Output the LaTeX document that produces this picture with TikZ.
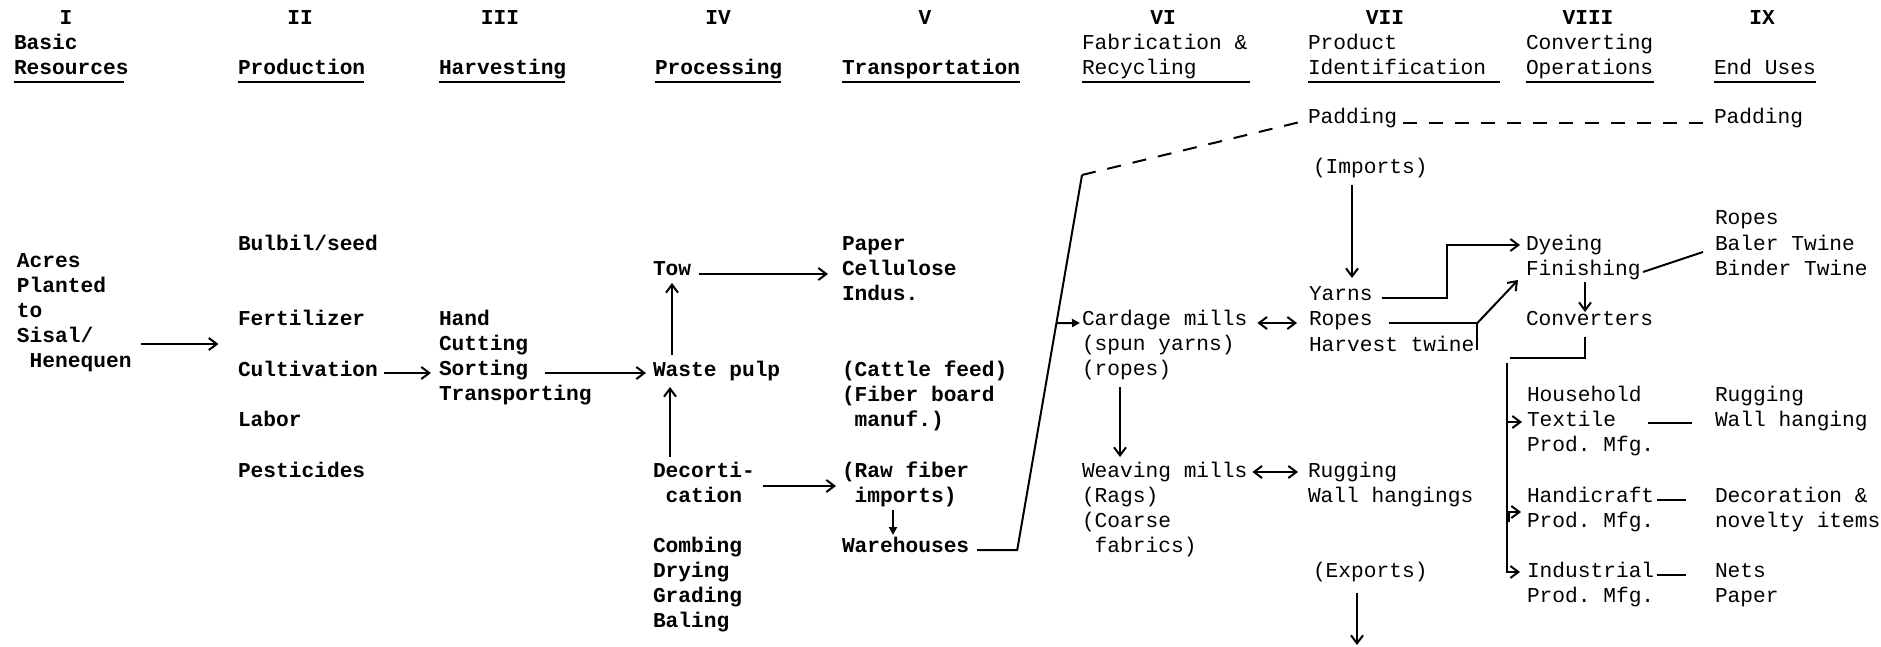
\documentclass[tikz,border=0pt]{standalone}
\usepackage{fontspec}
\newfontfamily\monofam{Liberation Mono}
\usetikzlibrary{arrows.meta,calc}
\newcommand\tw{\monofam\fontsize{10.6pt}{12.6pt}\selectfont\frenchspacing}
% lines stacked from the first baseline downwards
\newcommand\stk[1]{\begin{tabular}[t]{@{}l@{}}#1\end{tabular}}
\newcommand\ind{\hphantom{x}}
\tikzset{
  lbl/.style={anchor=base west, inner sep=0pt, outer sep=0pt, font=\tw},
  lblb/.style={lbl, font=\tw\bfseries},
  num/.style={anchor=base, inner sep=0pt, outer sep=0pt, font=\tw\bfseries},
  link/.style={line width=1pt},
  uline/.style={line width=0.9pt},
  arr/.style={link, -{Straight Barb[length=4pt,width=6pt]}},
  both/.style={link, {Straight Barb[length=4pt,width=6pt]}-{Straight Barb[length=4pt,width=6pt]}},
  dot/.style={link, -{Triangle[length=4pt,width=4pt]}},
  dashlink/.style={line width=1pt, dash pattern=on 7pt off 6pt}
}
\begin{document}
\begin{tikzpicture}[x=0.5pt,y=-0.5pt]
\fill[white] (0,0) rectangle (1881,647);
\useasboundingbox (0,0) rectangle (1881,647);

% column numbers
\node[num] (n1) at (66,25) {I};
\node[num] (n2) at (300,25) {II};
\node[num] (n3) at (500,25) {III};
\node[num] (n4) at (718,25) {IV};
\node[num] (n5) at (925,25) {V};
\node[num] (n6) at (1163,25) {VI};
\node[num] (n7) at (1385,25) {VII};
\node[num] (n8) at (1588,25) {VIII};
\node[num] (n9) at (1762,25) {IX};

% column titles
\node[lblb] (hIa) at (14,50) {Basic};
\node[lblb] (hIb) at (14,75) {Resources};
\node[lblb] (hII) at (238,75) {Production};
\node[lblb] (hIII) at (439,75) {Harvesting};
\node[lblb] (hIV) at (655,75) {Processing};
\node[lblb] (hV) at (842,75) {Transportation};
\node[lbl] (hVIa) at (1082,50) {Fabrication \&};
\node[lbl] (hVIb) at (1082,75) {Recycling};
\node[lbl] (hVIIa) at (1308,50) {Product};
\node[lbl] (hVIIb) at (1308,75) {Identification};
\node[lbl] (hVIIIa) at (1526,50) {Converting};
\node[lbl] (hVIIIb) at (1526,75) {Operations};
\node[lbl] (hIX) at (1714,75) {End Uses};

\draw[uline] ([yshift=-3.5pt]hIb.base west) -- ++(110,0);
\draw[uline] ([yshift=-3.5pt]hII.base west) -- ++(126,0);
\draw[uline] ([yshift=-3.5pt]hIII.base west) -- ++(126,0);
\draw[uline] ([yshift=-3.5pt]hIV.base west) -- ++(126,0);
\draw[uline] ([yshift=-3.5pt]hV.base west) -- ++(178,0);
\draw[uline] ([yshift=-3.5pt]hVIb.base west) -- ++(168,0);
\draw[uline] ([yshift=-3.5pt]hVIIb.base west) -- ++(192,0);
\draw[uline] ([yshift=-3.5pt]hVIIIb.base west) -- ++(128,0);
\draw[uline] ([yshift=-3.5pt]hIX.base west) -- ++(102,0);

% I - V
\node[lblb] (acres) at (17,267) {\stk{Acres\\Planted\\to\\Sisal/\\\ind Henequen}};
\node[lblb] (bulbil) at (238,250) {Bulbil/seed};
\node[lblb] (fert) at (238,325) {Fertilizer};
\node[lblb] (cult) at (238,376) {Cultivation};
\node[lblb] (labor) at (238,426) {Labor};
\node[lblb] (pest) at (238,477) {Pesticides};
\node[lblb] (harv) at (439,325) {\stk{Hand\\Cutting\\Sorting\\Transporting}};
\node[lblb] (tow) at (653,275) {Tow};
\node[lblb] (waste) at (653,376) {Waste pulp};
\node[lblb] (decort) at (653,477) {\stk{Decorti-\\\ind cation}};
\node[lblb] (comb) at (653,552) {\stk{Combing\\Drying\\Grading\\Baling}};
\node[lblb] (paper) at (842,250) {\stk{Paper\\Cellulose\\Indus.}};
\node[lblb] (cattle) at (842,376) {\stk{(Cattle feed)\\(Fiber board\\\ind manuf.)}};
\node[lblb] (raw) at (842,477) {\stk{(Raw fiber\\\ind imports)}};
\node[lblb] (ware) at (842,552) {Warehouses};

% VI - IX
\node[lbl] (cardage) at (1082,325) {\stk{Cardage mills\\(spun yarns)\\(ropes)}};
\node[lbl] (weaving) at (1082,477) {\stk{Weaving mills\\(Rags)\\(Coarse\\\ind fabrics)}};
\node[lbl] (pad7) at (1308,124) {Padding};
\node[lbl] (imports) at (1313,174) {(Imports)};
\node[lbl] (yarns) at (1309,300) {Yarns};
\node[lbl] (ropes7) at (1309,325) {Ropes};
\node[lbl] (harvtw) at (1309,351) {Harvest twine};
\node[lbl] (rugg7) at (1308,477) {\stk{Rugging\\Wall hangings}};
\node[lbl] (exports) at (1313,577) {(Exports)};
\node[lbl] (dye) at (1526,250) {\stk{Dyeing\\Finishing}};
\node[lbl] (conv) at (1526,325) {Converters};
\node[lbl] (house) at (1527,401) {\stk{Household\\Textile\\Prod. Mfg.}};
\node[lbl] (handi) at (1527,502) {\stk{Handicraft\\Prod. Mfg.}};
\node[lbl] (indus) at (1527,577) {\stk{Industrial\\Prod. Mfg.}};
\node[lbl] (pad9) at (1714,124) {Padding};
\node[lbl] (ropes9) at (1715,225) {\stk{Ropes\\Baler Twine\\Binder Twine}};
\node[lbl] (rugg9) at (1715,401) {\stk{Rugging\\Wall hanging}};
\node[lbl] (deco) at (1715,502) {\stk{Decoration \&\\novelty items}};
\node[lbl] (nets) at (1715,577) {\stk{Nets\\Paper}};

% flows, left part
\draw[arr] ([shift={(10,77)}]acres.base east) -- ++(77,0);
\draw[arr] ([shift={(6,-3)}]cult.base east) -- ++(47,0);
\draw[arr] ([shift={(-108,-3)}]waste.base west) -- ([shift={(-7,-3)}]waste.base west);
\draw[arr] ([shift={(19,-21)}]waste.base west) -- ([shift={(19,8)}]tow.base west);
\draw[arr] ([shift={(17,-20)}]decort.base west) -- ([shift={(17,11)}]waste.base west);
\draw[arr] ([shift={(8,-1)}]tow.base east) -- ([shift={(-14,24)}]paper.base west);
\draw[arr] ([shift={(8,9)}]decort.base east) -- ([shift={(-6,9)}]raw.base west);
\draw[dot] ([shift={(51,33)}]raw.base west) -- ([shift={(51,-17)}]ware.base west);

% warehouses to the mills
\coordinate (kb) at ([shift={(48,-2)}]ware.base east);
\coordinate (kt) at ([shift={(0,-150)}]cardage.base west);
\draw[link] ([shift={(8,-2)}]ware.base east) -- (kb) -- (kt);
\draw[dashlink] (kt) -- ([shift={(-8,-2)}]pad7.base west);
\draw[dot] ($(kb)!0.605!(kt)$) -- ([shift={(-2,-2)}]cardage.base west);
\draw[both] ([shift={(10,-2)}]cardage.base east) -- ([shift={(-12,-2)}]ropes7.base west);
\draw[arr] ([shift={(38,62)}]cardage.base west) -- ([shift={(38,-20)}]weaving.base west);
\draw[both] ([shift={(5,-5)}]weaving.base east) -- ([shift={(-10,-5)}]rugg7.base west);
\draw[arr] ([shift={(39,11)}]imports.base west) -- ([shift={(43,-22)}]yarns.base west);
\draw[dashlink] ([shift={(6,-1)}]pad7.base east) -- ([shift={(-6,-1)}]pad9.base west);
\draw[arr] ([shift={(44,16)}]exports.base west) -- ++(0,52);

% products to converting
\draw[arr] ([shift={(9,-2)}]yarns.base east) -- ++(65,0) |- ([shift={(-6,-5)}]dye.base west);
\coordinate (jr) at ([shift={(3,-28)}]harvtw.base east);
\draw[link] ([shift={(16,-2)}]ropes7.base east) -- (jr) -- ([shift={(3,-1)}]harvtw.base east);
\draw[arr] (jr) -- ([shift={(-8,30)}]dye.base west);
\draw[arr] ([shift={(59,32)}]dye.base west) -- ([shift={(59,-13)}]conv.base west);
\draw[link] ([shift={(59,12)}]conv.base west) -- ++(0,21) -- ++(-75,0);
\draw[arr] ([shift={(-20,-214)}]indus.base west) |- ([shift={(-7,-5)}]indus.base west);
\draw[arr] ([shift={(-20,21)}]house.base west) -- ([shift={(-5,21)}]house.base west);
\draw[arr] ([shift={(-18,20)}]handi.base west) |- ([shift={(-6,10)}]handi.base west);

% converting to end uses
\draw[link] ([shift={(117,22)}]dye.base west) -- ([shift={(-12,27)}]ropes9.base west);
\draw[link] ([shift={(-67,22)}]rugg9.base west) -- ([shift={(-23,22)}]rugg9.base west);
\draw[link] ([shift={(-58,-2)}]deco.base west) -- ([shift={(-29,-2)}]deco.base west);
\draw[link] ([shift={(-58,-2)}]nets.base west) -- ([shift={(-29,-2)}]nets.base west);
\end{tikzpicture}
\end{document}
